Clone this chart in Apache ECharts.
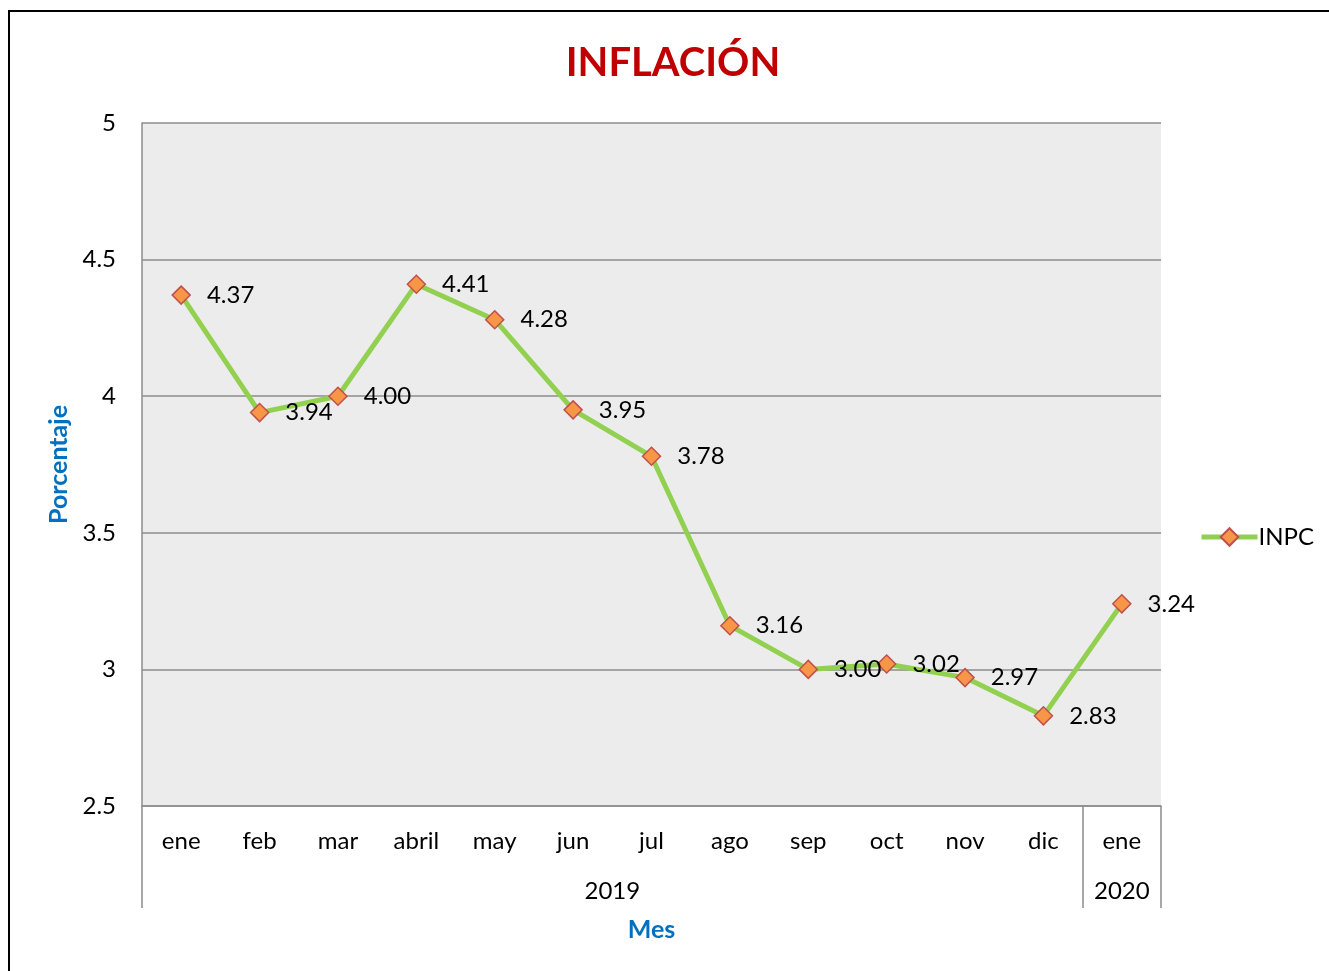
<!DOCTYPE html>
<html>
<head>
<meta charset="utf-8">
<script src="https://cdn.jsdelivr.net/npm/echarts@6/dist/echarts.min.js"></script>
<style>
html,body{margin:0;padding:0;background:#fff;}
#chart{position:absolute;left:0;top:0;width:1329px;height:971px;}
#frame{position:absolute;left:8px;top:10px;width:1340px;height:990px;border:2px solid #000;pointer-events:none;}
</style>
</head>
<body>
<div id="chart"></div>
<div id="frame"></div>
<script>
const months = ['ene','feb','mar','abril','may','jun','jul','ago','sep','oct','nov','dic','ene'];
const inpc = [4.37, 3.94, 4.00, 4.41, 4.28, 3.95, 3.78, 3.16, 3.00, 3.02, 2.97, 2.83, 3.24];
const years = ['2019','2020'];
const monthsPerYear = [12, 1];
const yTicks = [2.5, 5, 0.5]; // min, max, interval

// year group boundaries and centres derived from month counts
const bounds = [0];
monthsPerYear.forEach(n => bounds.push(bounds[bounds.length-1] + n));
const centers = monthsPerYear.map((n,i) => bounds[i] + n/2);

const FONT = 'Lato, "Open Sans", sans-serif';
const chart = echarts.init(document.getElementById('chart'));
chart.setOption({
  animation: false,
  backgroundColor: '#fff',
  title: {
    text: 'INFLACIÓN',
    left: 668, top: 38, textAlign: 'center',
    textStyle: {color: '#C00000', fontSize: 40, fontWeight: 'bold', fontFamily: FONT}
  },
  legend: {
    left: 1194, top: 520,
    itemWidth: 56, itemHeight: 22, itemGap: 4,
    data: ['INPC'],
    lineStyle: {width: 5},
    textStyle: {fontSize: 24, color: '#000', fontFamily: FONT, padding: [0,0,0,-4]}
  },
  grid: {
    left: 142, top: 123, right: 168, bottom: 165,
    show: true, backgroundColor: '#ececec', borderWidth: 0
  },
  xAxis: [{
    type: 'category',
    data: months,
    boundaryGap: true,
    position: 'bottom',
    axisLine: {show: true, lineStyle: {color: '#8c8c8c', width: 1.5}},
    axisTick: {show: false},
    axisLabel: {fontSize: 24, color: '#000', margin: 23, fontFamily: FONT, interval: 0},
    name: 'Mes', nameLocation: 'middle', nameGap: 111,
    nameTextStyle: {color: '#0070C0', fontSize: 25, fontWeight: 'bold', fontFamily: FONT}
  }, {
    type: 'value',
    min: 0, max: bounds[bounds.length-1],
    position: 'bottom', offset: 0,
    axisLine: {show: false},
    splitLine: {show: false},
    axisTick: {show: true, customValues: bounds, length: 102, inside: false,
      lineStyle: {color: '#8c8c8c', width: 1.5}},
    axisLabel: {show: true, customValues: centers, margin: 73, fontSize: 24, color: '#000', fontFamily: FONT,
      formatter: v => { const i = centers.indexOf(v); return i >= 0 ? years[i] : ''; }}
  }],
  yAxis: {
    type: 'value',
    min: yTicks[0], max: yTicks[1], interval: yTicks[2],
    axisLine: {show: true, lineStyle: {color: '#8c8c8c', width: 1.5}},
    axisTick: {show: false},
    splitLine: {show: true, lineStyle: {color: '#8c8c8c', width: 1.5}},
    axisLabel: {fontSize: 24, color: '#000', margin: 26, fontFamily: FONT},
    name: 'Porcentaje', nameLocation: 'middle', nameGap: 69, nameRotate: 90,
    nameTextStyle: {color: '#0070C0', fontSize: 25, fontWeight: 'bold', fontFamily: FONT}
  },
  series: [{
    name: 'INPC',
    type: 'line',
    xAxisIndex: 0,
    data: inpc,
    symbol: 'diamond',
    symbolSize: 18,
    lineStyle: {color: '#92D050', width: 5},
    itemStyle: {color: '#F79646', borderColor: '#C0504D', borderWidth: 1.5},
    label: {show: true, position: 'right', distance: 16, fontSize: 24, color: '#000', fontFamily: FONT,
      formatter: p => p.value.toFixed(2)}
  }]
});
</script>
</body>
</html>
